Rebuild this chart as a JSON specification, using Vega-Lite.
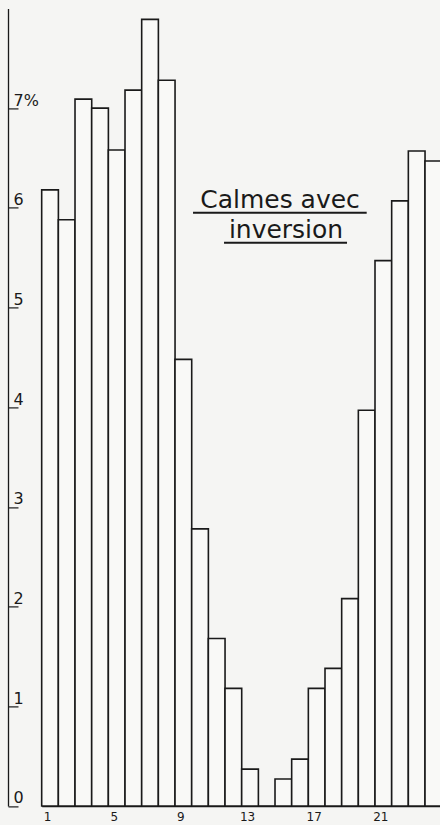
{
  "$schema": "https://vega.github.io/schema/vega-lite/v6.json",
  "autosize": {"type": "none"},
  "width": 400,
  "height": 797.6,
  "padding": {"left": 41.7, "top": 8.4, "right": 0, "bottom": 19},
  "background": "#f5f5f3",
  "config": {"view": {"stroke": null}, "font": "DejaVu Sans"},
  "datasets": {
    "hours": [
      {"hour": 1, "pct": 6.18}, {"hour": 2, "pct": 5.88}, {"hour": 3, "pct": 7.09},
      {"hour": 4, "pct": 7.0}, {"hour": 5, "pct": 6.58}, {"hour": 6, "pct": 7.18},
      {"hour": 7, "pct": 7.89}, {"hour": 8, "pct": 7.28}, {"hour": 9, "pct": 4.48},
      {"hour": 10, "pct": 2.78}, {"hour": 11, "pct": 1.68}, {"hour": 12, "pct": 1.18},
      {"hour": 13, "pct": 0.37}, {"hour": 14, "pct": 0}, {"hour": 15, "pct": 0.27},
      {"hour": 16, "pct": 0.47}, {"hour": 17, "pct": 1.18}, {"hour": 18, "pct": 1.38},
      {"hour": 19, "pct": 2.08}, {"hour": 20, "pct": 3.97}, {"hour": 21, "pct": 5.47},
      {"hour": 22, "pct": 6.07}, {"hour": 23, "pct": 6.57}, {"hour": 24, "pct": 6.47}
    ],
    "title": [
      {"text": "Calmes avec", "x": 14.8, "y": 6.0},
      {"text": "inversion", "x": 15.16, "y": 5.7}
    ],
    "underline": [
      {"x1": 9.58, "x2": 20.0, "y": 5.95},
      {"x1": 11.44, "x2": 18.82, "y": 5.65}
    ]
  },
  "layer": [
    {
      "data": {"name": "hours"},
      "mark": {"type": "bar", "size": 16.7, "fill": "#f9f9f7", "stroke": "#1a1a1a", "strokeWidth": 1.6},
      "encoding": {
        "x": {
          "field": "hour", "type": "quantitative",
          "scale": {"domain": [0.5, 24.5], "nice": false, "zero": false, "padding": 0},
          "axis": {
            "title": null, "grid": false, "ticks": false,
            "values": [1, 5, 9, 13, 17, 21],
            "domainColor": "#1a1a1a", "domainWidth": 1.6,
            "labelFontSize": 12, "labelColor": "#1a1a1a", "labelPadding": 6,
            "labelOffset": -3, "labelBaseline": "top", "labelFlush": false
          }
        },
        "y": {
          "field": "pct", "type": "quantitative",
          "scale": {"domain": [0, 8], "nice": false, "padding": 0},
          "axis": {
            "title": null, "grid": false, "offset": 33.7,
            "values": [0, 1, 2, 3, 4, 5, 6, 7],
            "format": "d",
            "labelExpr": "datum.value == 7 ? '7%' : datum.label",
            "domainColor": "#1a1a1a", "domainWidth": 1.3,
            "tickColor": "#1a1a1a", "tickWidth": 1.2, "tickSize": -10,
            "labelAlign": "left", "labelPadding": 5, "labelBaseline": "alphabetic",
            "labelOffset": -3, "labelFontSize": 16, "labelColor": "#1a1a1a",
            "labelFlush": false
          }
        }
      }
    },
    {
      "data": {"name": "title"},
      "mark": {"type": "text", "fontSize": 25, "align": "center", "baseline": "alphabetic", "color": "#1a1a1a"},
      "encoding": {
        "x": {"field": "x", "type": "quantitative"},
        "y": {"field": "y", "type": "quantitative"},
        "text": {"field": "text"}
      }
    },
    {
      "data": {"name": "underline"},
      "mark": {"type": "rule", "color": "#1a1a1a", "strokeWidth": 2},
      "encoding": {
        "x": {"field": "x1", "type": "quantitative"},
        "x2": {"field": "x2"},
        "y": {"field": "y", "type": "quantitative"}
      }
    }
  ]
}
